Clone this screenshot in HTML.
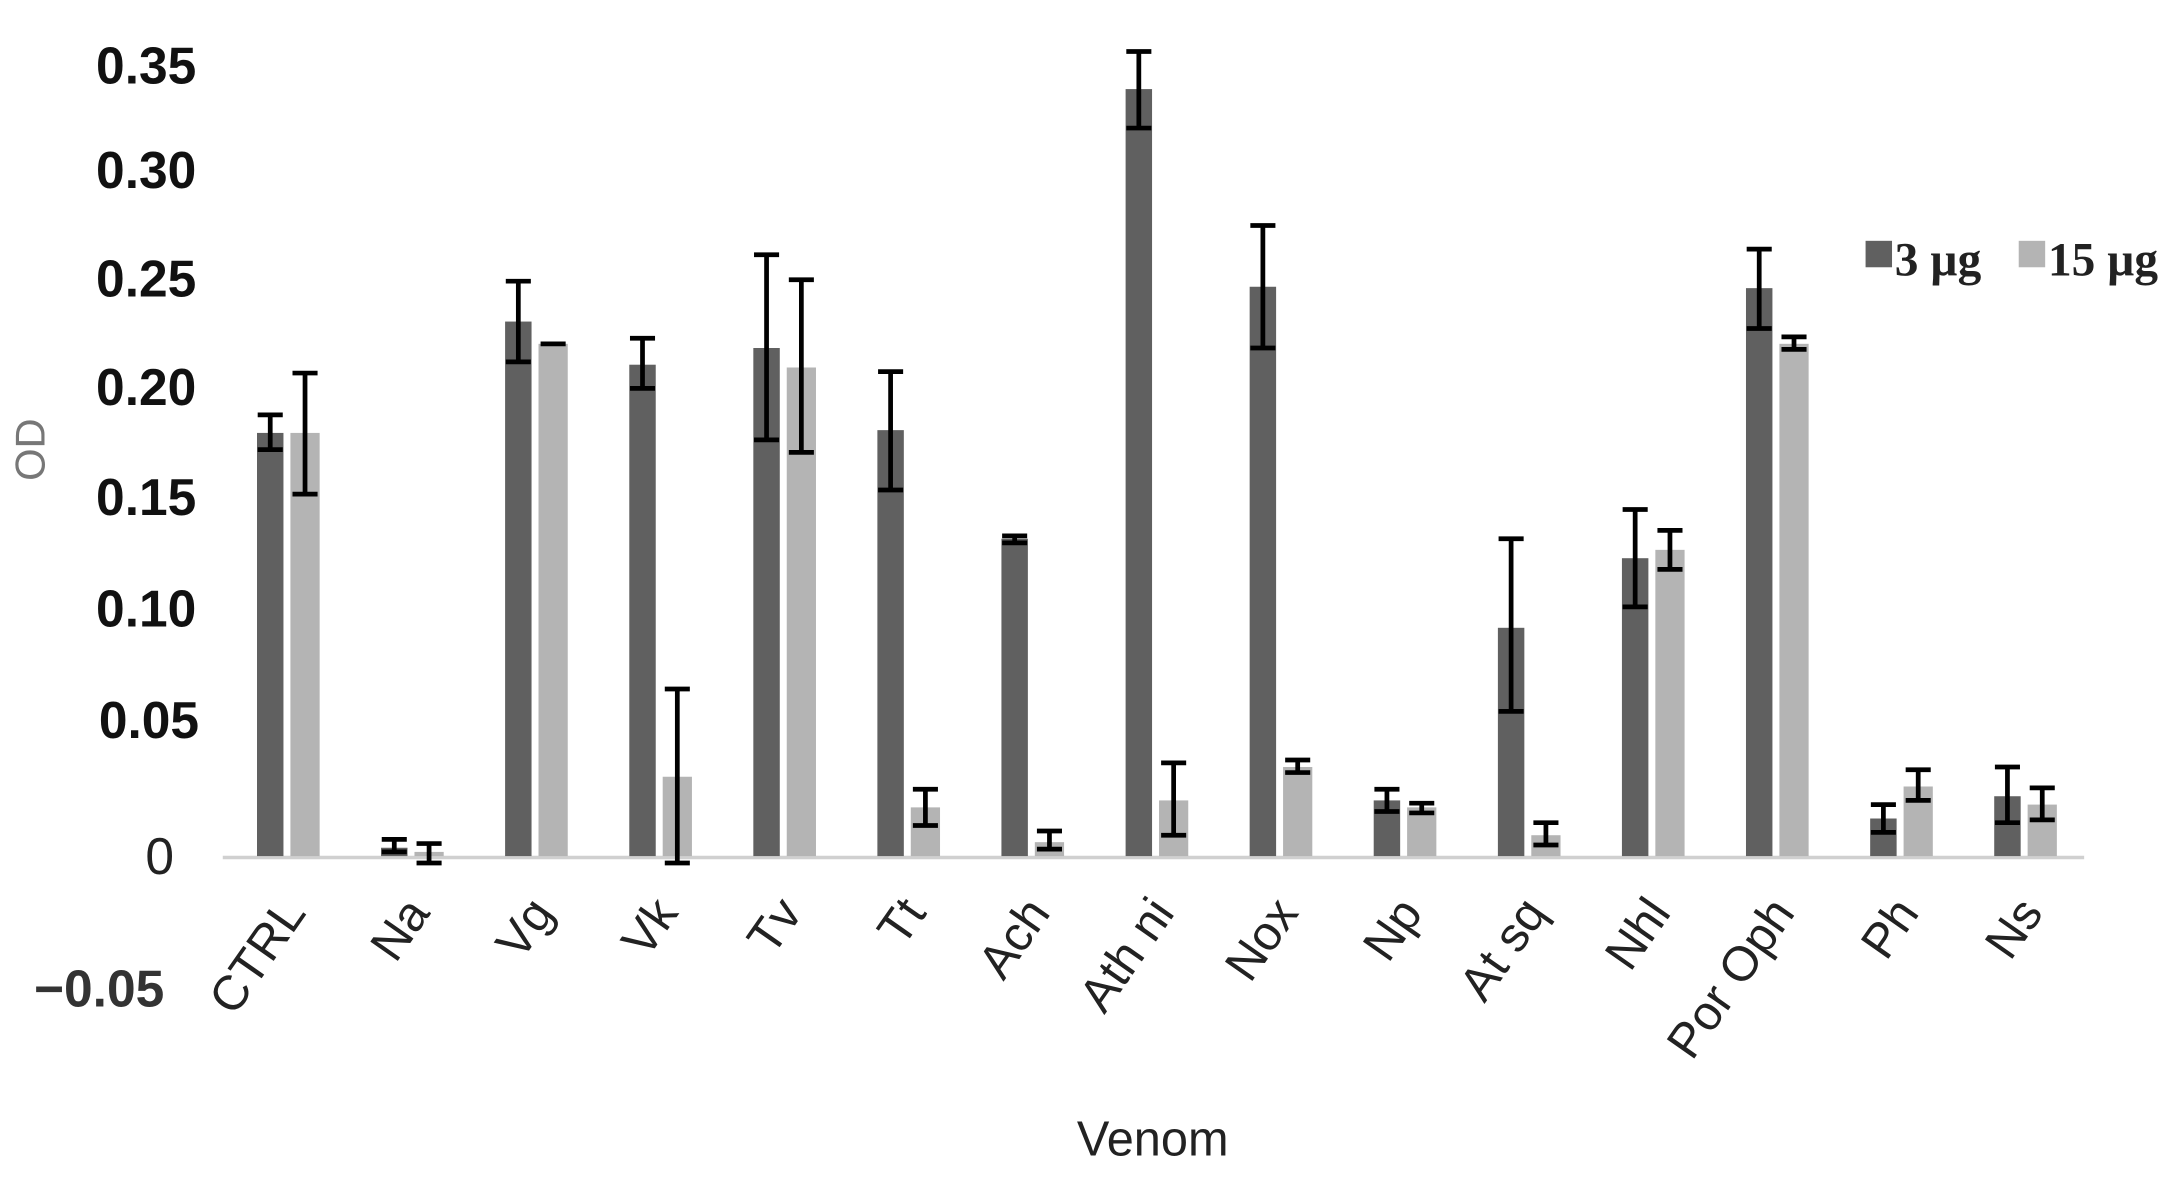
<!DOCTYPE html>
<html><head><meta charset="utf-8"><style>html,body{margin:0;padding:0;background:#fff}svg{display:block}</style></head>
<body>
<svg width="2183" height="1186" viewBox="0 0 1568 852" preserveAspectRatio="none" xmlns="http://www.w3.org/2000/svg">
<rect width="1568" height="852" fill="#fff"/>
<g font-family="Liberation Sans, sans-serif" font-weight="bold" font-size="37" fill="#111" text-anchor="end">
<text x="141" y="60">0.35</text>
<text x="141" y="135">0.30</text>
<text x="141" y="213">0.25</text>
<text x="141" y="291">0.20</text>
<text x="141" y="370">0.15</text>
<text x="141" y="450">0.10</text>
<text x="143" y="530">0.05</text>
<text x="125" y="628" font-weight="normal" fill="#222">0</text>
<text x="118" y="723" fill="#333">−0.05</text>
</g>
<text transform="translate(32,323) rotate(-90)" font-family="Liberation Sans, sans-serif" font-size="30" fill="#777" text-anchor="middle">OD</text>
<text x="828" y="830" font-family="Liberation Sans, sans-serif" font-size="35" fill="#222" text-anchor="middle">Venom</text>
<line x1="160" y1="616" x2="1497" y2="616" stroke="#d0d0d0" stroke-width="2.5"/>
<g font-family="Liberation Sans, sans-serif" font-size="35" fill="#222" stroke="#000" stroke-width="3.4">
<g transform="translate(204.6,0)"><rect x="-20" y="311" width="19" height="304" fill="#606060" stroke="none"/><rect x="4" y="311" width="21" height="304" fill="#b4b4b4" stroke="none"/><path d="M-10.5 298V323M-19.5 298h18M-19.5 323h18M14.5 268V355M5.5 268h18M5.5 355h18" fill="none"/><text transform="translate(16,656) rotate(-55)" text-anchor="end" stroke="none">CTRL</text></g>
<g transform="translate(293.7,0)"><rect x="-20" y="609" width="19" height="6" fill="#606060" stroke="none"/><rect x="4" y="612" width="21" height="3" fill="#b4b4b4" stroke="none"/><path d="M-10.5 603V612M-19.5 603h18M-19.5 612h18M14.5 606V620M5.5 606h18M5.5 620h18" fill="none"/><text transform="translate(16,656) rotate(-55)" text-anchor="end" stroke="none">Na</text></g>
<g transform="translate(382.8,0)"><rect x="-20" y="231" width="19" height="384" fill="#606060" stroke="none"/><rect x="4" y="247" width="21" height="368" fill="#b4b4b4" stroke="none"/><path d="M-10.5 202V260M-19.5 202h18M-19.5 260h18M5.5 247h18" fill="none"/><text transform="translate(16,656) rotate(-55)" text-anchor="end" stroke="none">Vg</text></g>
<g transform="translate(472,0)"><rect x="-20" y="262" width="19" height="353" fill="#606060" stroke="none"/><rect x="4" y="558" width="21" height="57" fill="#b4b4b4" stroke="none"/><path d="M-10.5 243V279M-19.5 243h18M-19.5 279h18M14.5 495V620M5.5 495h18M5.5 620h18" fill="none"/><text transform="translate(16,656) rotate(-55)" text-anchor="end" stroke="none">Vk</text></g>
<g transform="translate(561.1,0)"><rect x="-20" y="250" width="19" height="365" fill="#606060" stroke="none"/><rect x="4" y="264" width="21" height="351" fill="#b4b4b4" stroke="none"/><path d="M-10.5 183V316M-19.5 183h18M-19.5 316h18M14.5 201V325M5.5 201h18M5.5 325h18" fill="none"/><text transform="translate(16,656) rotate(-55)" text-anchor="end" stroke="none">Tv</text></g>
<g transform="translate(650.2,0)"><rect x="-20" y="309" width="19" height="306" fill="#606060" stroke="none"/><rect x="4" y="580" width="21" height="35" fill="#b4b4b4" stroke="none"/><path d="M-10.5 267V352M-19.5 267h18M-19.5 352h18M14.5 567V593M5.5 567h18M5.5 593h18" fill="none"/><text transform="translate(16,656) rotate(-55)" text-anchor="end" stroke="none">Tt</text></g>
<g transform="translate(739.3,0)"><rect x="-20" y="387" width="19" height="228" fill="#606060" stroke="none"/><rect x="4" y="605" width="21" height="10" fill="#b4b4b4" stroke="none"/><path d="M-10.5 385V390M-19.5 385h18M-19.5 390h18M14.5 597V610M5.5 597h18M5.5 610h18" fill="none"/><text transform="translate(16,656) rotate(-55)" text-anchor="end" stroke="none">Ach</text></g>
<g transform="translate(828.5,0)"><rect x="-20" y="64" width="19" height="551" fill="#606060" stroke="none"/><rect x="4" y="575" width="21" height="40" fill="#b4b4b4" stroke="none"/><path d="M-10.5 37V92M-19.5 37h18M-19.5 92h18M14.5 548V600M5.5 548h18M5.5 600h18" fill="none"/><text transform="translate(16,656) rotate(-55)" text-anchor="end" stroke="none">Ath ni</text></g>
<g transform="translate(917.6,0)"><rect x="-20" y="206" width="19" height="409" fill="#606060" stroke="none"/><rect x="4" y="551" width="21" height="64" fill="#b4b4b4" stroke="none"/><path d="M-10.5 162V250M-19.5 162h18M-19.5 250h18M14.5 546V555M5.5 546h18M5.5 555h18" fill="none"/><text transform="translate(16,656) rotate(-55)" text-anchor="end" stroke="none">Nox</text></g>
<g transform="translate(1006.7,0)"><rect x="-20" y="575" width="19" height="40" fill="#606060" stroke="none"/><rect x="4" y="580" width="21" height="35" fill="#b4b4b4" stroke="none"/><path d="M-10.5 567V583M-19.5 567h18M-19.5 583h18M14.5 577V584M5.5 577h18M5.5 584h18" fill="none"/><text transform="translate(16,656) rotate(-55)" text-anchor="end" stroke="none">Np</text></g>
<g transform="translate(1095.9,0)"><rect x="-20" y="451" width="19" height="164" fill="#606060" stroke="none"/><rect x="4" y="600" width="21" height="15" fill="#b4b4b4" stroke="none"/><path d="M-10.5 387V511M-19.5 387h18M-19.5 511h18M14.5 591V607M5.5 591h18M5.5 607h18" fill="none"/><text transform="translate(16,656) rotate(-55)" text-anchor="end" stroke="none">At sq</text></g>
<g transform="translate(1185,0)"><rect x="-20" y="401" width="19" height="214" fill="#606060" stroke="none"/><rect x="4" y="395" width="21" height="220" fill="#b4b4b4" stroke="none"/><path d="M-10.5 366V436M-19.5 366h18M-19.5 436h18M14.5 381V409M5.5 381h18M5.5 409h18" fill="none"/><text transform="translate(16,656) rotate(-55)" text-anchor="end" stroke="none">Nhl</text></g>
<g transform="translate(1274.1,0)"><rect x="-20" y="207" width="19" height="408" fill="#606060" stroke="none"/><rect x="4" y="247" width="21" height="368" fill="#b4b4b4" stroke="none"/><path d="M-10.5 179V236M-19.5 179h18M-19.5 236h18M14.5 242V251M5.5 242h18M5.5 251h18" fill="none"/><text transform="translate(16,656) rotate(-55)" text-anchor="end" stroke="none">Por Oph</text></g>
<g transform="translate(1363.3,0)"><rect x="-20" y="588" width="19" height="27" fill="#606060" stroke="none"/><rect x="4" y="565" width="21" height="50" fill="#b4b4b4" stroke="none"/><path d="M-10.5 578V598M-19.5 578h18M-19.5 598h18M14.5 553V575M5.5 553h18M5.5 575h18" fill="none"/><text transform="translate(16,656) rotate(-55)" text-anchor="end" stroke="none">Ph</text></g>
<g transform="translate(1452.4,0)"><rect x="-20" y="572" width="19" height="43" fill="#606060" stroke="none"/><rect x="4" y="578" width="21" height="37" fill="#b4b4b4" stroke="none"/><path d="M-10.5 551V591M-19.5 551h18M-19.5 591h18M14.5 566V589M5.5 566h18M5.5 589h18" fill="none"/><text transform="translate(16,656) rotate(-55)" text-anchor="end" stroke="none">Ns</text></g>
</g>
<g font-family="Liberation Serif, serif" font-size="34" font-weight="bold" fill="#222">
<rect x="1340" y="173" width="19" height="19" fill="#606060"/>
<text x="1361" y="198">3 µg</text>
<rect x="1450" y="173" width="19" height="19" fill="#b4b4b4"/>
<text x="1471" y="198">15 µg</text>
</g>
</svg>
</body></html>
